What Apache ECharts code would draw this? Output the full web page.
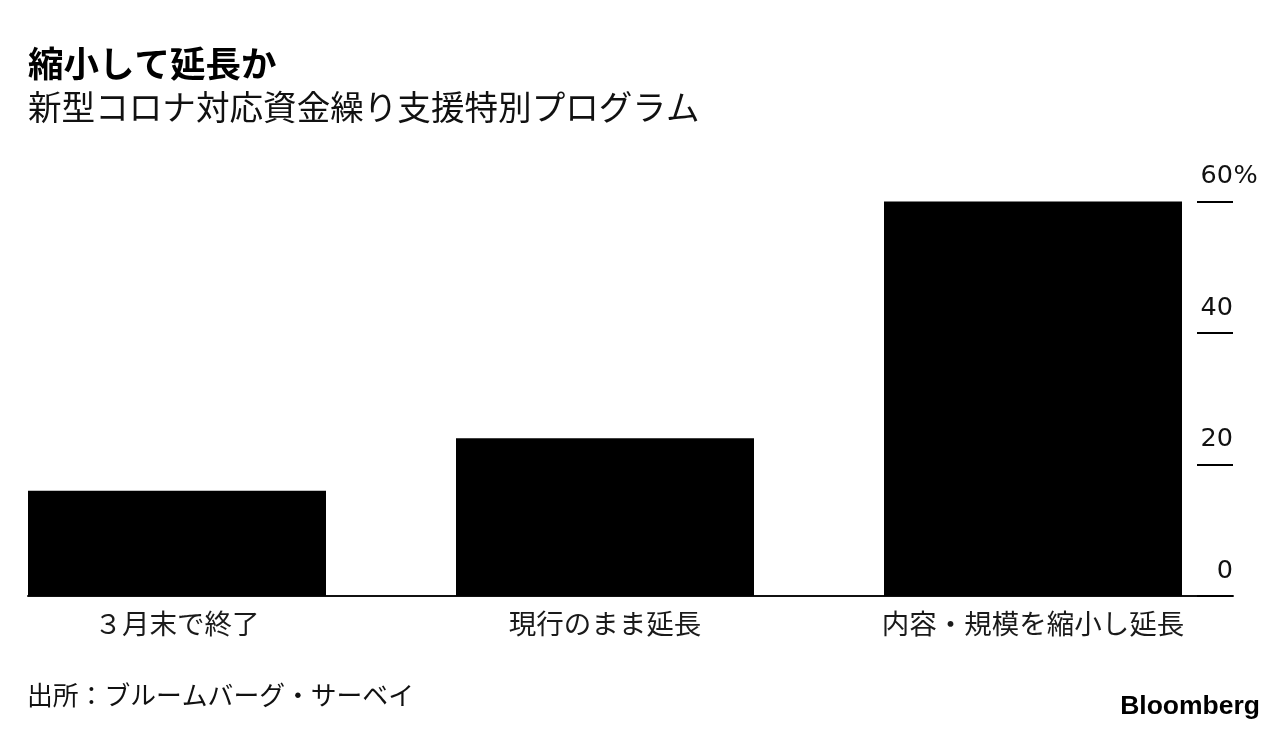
<!DOCTYPE html>
<html>
<head>
<meta charset="utf-8">
<script src="https://cdn.jsdelivr.net/npm/echarts@6/dist/echarts.min.js"></script>
<style>
html,body{margin:0;padding:0;background:#fff;}
#chart{width:1288px;height:732px;}
</style>
</head>
<body>
<div id="chart"></div>
<script>
const titleText = '縮小して延長か';
const subtitleText = '新型コロナ対応資金繰り支援特別プログラム';
const sourceText = '出所：ブルームバーグ・サーベイ';
const categories = ['３月末で終了', '現行のまま延長', '内容・規模を縮小し延長'];
const values = [16, 24, 60];
const yTicks = [0, 20, 40, 60];
const yUnit = '%';

const cjk = '"Noto Sans CJK JP", "Noto Sans", sans-serif';
const latin = '"Liberation Sans", Arial, sans-serif';
const digits = '"DejaVu Sans", sans-serif';

const chart = echarts.init(document.getElementById('chart'));
chart.setOption({
  backgroundColor: '#ffffff',
  animation: false,
  title: [
    { text: titleText, left: 23, top: 41,
      textStyle: { fontFamily: cjk, fontSize: 35.5, fontWeight: 'bold', color: '#000', lineHeight: 36 } },
    { text: subtitleText, left: 23, top: 85,
      textStyle: { fontFamily: cjk, fontSize: 33.6, fontWeight: 'normal', color: '#111', lineHeight: 34 } },
    { text: sourceText, left: 22, top: 677,
      textStyle: { fontFamily: cjk, fontSize: 25.8, fontWeight: 'normal', color: '#111', lineHeight: 26 } },
    { text: 'Bloomberg', right: 23, top: 689,
      textStyle: { fontFamily: latin, fontSize: 26.5, fontWeight: 'bold', color: '#000', lineHeight: 26 } }
  ],
  grid: [
    { left: 177, right: 255, top: 201.5, bottom: 136 },
    { left: 28, right: 55, top: 201.5, bottom: 136 }
  ],
  xAxis: [
    { type: 'category', gridIndex: 0, data: categories, boundaryGap: false,
      axisLine: { show: false }, axisTick: { show: false },
      axisLabel: { interval: 0, fontFamily: cjk, fontSize: 27.5, color: '#1a1a1a', margin: 14, lineHeight: 27 } },
    { type: 'category', gridIndex: 1, data: [''],
      axisLine: { show: true, onZero: false, lineStyle: { color: '#111', width: 2 } },
      axisTick: { show: false }, axisLabel: { show: false }, splitLine: { show: false } }
  ],
  yAxis: [
    { type: 'value', gridIndex: 0, min: 0, max: 60, interval: 20, show: false },
    { type: 'value', gridIndex: 1, position: 'right', min: 0, max: 60, interval: 20,
      axisLine: { show: false, onZero: false },
      splitLine: { show: false },
      axisTick: { show: true, inside: true, length: 36, lineStyle: { color: '#000', width: 2 } },
      axisLabel: {
        inside: true, margin: -25,
        verticalAlign: 'bottom', padding: [0, 0, 12, 0],
        formatter: function (v) {
          return yTicks.indexOf(v) === yTicks.length - 1 ? '{n|' + v + '}{p|' + yUnit + '}' : '{n|' + v + '}{p|\u00a0}';
        },
        rich: {
          n: { fontFamily: digits, fontSize: 25.5, color: '#111', lineHeight: 26 },
          p: { fontFamily: digits, fontSize: 25.5, color: '#111', lineHeight: 26, width: 25, align: 'left' }
        }
      } }
  ],
  series: [
    { type: 'bar', xAxisIndex: 0, yAxisIndex: 0, data: values, barWidth: 298, clip: false,
      itemStyle: { color: '#000' }, z: 2 }
  ]
});
</script>
</body>
</html>
